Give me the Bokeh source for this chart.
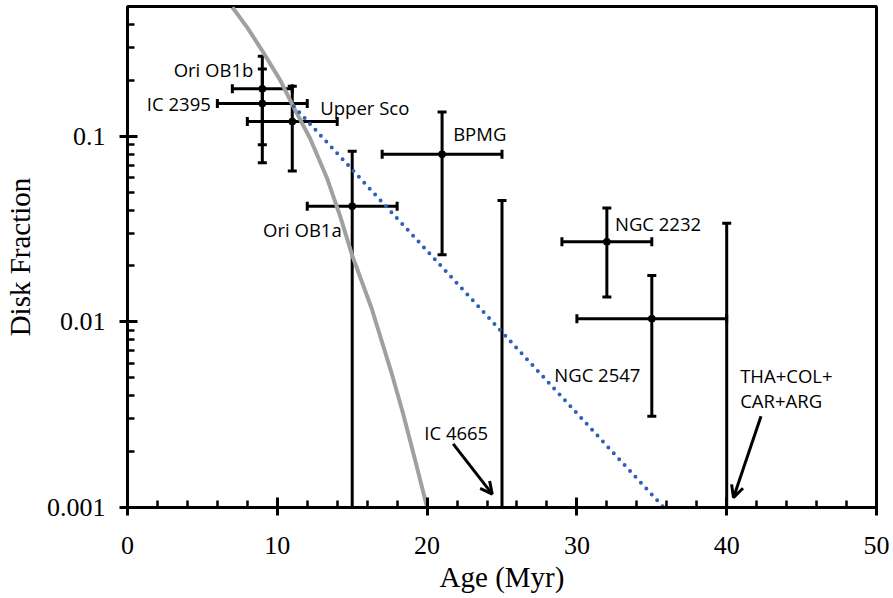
from bokeh.plotting import figure
from bokeh.models import (Whisker, TeeHead, Arrow, OpenHead, Label, FixedTicker,
                          CustomJSTickFormatter, ColumnDataSource, Range1d)
from bokeh.embed import file_html
from bokeh.resources import INLINE

# ---- data ----
names = ["Ori OB1b", "IC 2395", "Upper Sco", "Ori OB1a", "BPMG", "NGC 2232", "NGC 2547"]
age = [9, 9, 11, 15, 21, 32, 35]
age_lo = [7, 6, 8, 12, 17, 29, 30]
age_hi = [11, 12, 14, 18, 25, 35, 40]
frac = [0.18, 0.15, 0.12, 0.042, 0.080, 0.027, 0.0104]
frac_lo = [0.090, 0.072, 0.065, 0.001, 0.023, 0.0136, 0.0031]
frac_hi = [0.27, 0.23, 0.186, 0.083, 0.135, 0.041, 0.0178]

# upper limits (IC 4665, THA+COL+CAR+ARG)
lim_age = [25, 40]
lim_lo = [0.001, 0.001]
lim_hi = [0.045, 0.034]

# grey model curve
curve_age = [7.0, 8.0, 9.1, 10.2, 11.1, 12.2, 13.3, 14.2, 15.0, 16.3, 17.6, 18.4, 19.2, 20.0]
curve_frac = [0.495, 0.385, 0.280, 0.200, 0.143, 0.097, 0.060, 0.037, 0.0228, 0.0118,
              0.0054, 0.0032, 0.0018, 0.001]

# blue dotted fit
fit_age = [11.1, 35.8]
fit_frac = [0.145, 0.001]

# annotations
label_text = ["Ori OB1b", "IC 2395", "Upper Sco", "Ori OB1a", "BPMG", "NGC 2232",
              "NGC 2547", "IC 4665", "THA+COL+", "CAR+ARG"]
label_x = [8.4, 5.56, 12.87, 14.3, 21.74, 32.54, 28.49, 19.81, 40.9, 40.9]
label_y = [0.23, 0.15, 0.143, 0.0314, 0.1034, 0.0338, 0.00518, 0.00252, 0.00513, 0.00376]
label_align = ["right", "right", "left", "right", "left", "left", "left", "left", "left", "left"]

arrow_x0 = [21.74, 42.29]
arrow_y0 = [0.0022, 0.0031]
arrow_x1 = [24.35, 40.45]
arrow_y1 = [0.00118, 0.00113]

x_ticks = [0, 10, 20, 30, 40, 50]
y_ticks = [0.001, 0.01, 0.1]

# ---- figure ----
p = figure(width=893, height=598, x_range=Range1d(0, 50), y_range=Range1d(0.001, 0.5),
           y_axis_type="log", output_backend="svg", toolbar_location=None,
           min_border_left=125, min_border_right=17, min_border_top=6, min_border_bottom=91)
p.background_fill_color = "white"
p.border_fill_color = "white"
p.xgrid.visible = False
p.ygrid.visible = False
p.outline_line_color = "black"
p.outline_line_width = 3
p.outline_line_alpha = 1

x_minor = [v for v in range(0, 51, 2) if v not in x_ticks]
y_minor = [k * t for t in y_ticks for k in range(2, 10) if k * t < 0.5]
p.xaxis.ticker = FixedTicker(ticks=x_ticks, minor_ticks=x_minor)
p.yaxis.ticker = FixedTicker(ticks=y_ticks, minor_ticks=y_minor)
p.yaxis.formatter = CustomJSTickFormatter(code="return String(tick);")

for ax in (p.xaxis, p.yaxis):
    ax.axis_line_width = 3
    ax.axis_line_color = "black"
    ax.major_tick_line_width = 3
    ax.major_tick_line_color = "black"
    ax.minor_tick_line_width = 2.5
    ax.minor_tick_line_color = "black"
    ax.major_tick_in = 10
    ax.major_tick_out = 8
    ax.minor_tick_in = 7
    ax.minor_tick_out = 0
    ax.major_label_text_font = "Liberation Serif"
    ax.major_label_text_font_size = "26px"
    ax.major_label_text_color = "black"
    ax.axis_label_text_font = "Liberation Serif"
    ax.axis_label_text_font_size = "29px"
    ax.axis_label_text_font_style = "normal"
    ax.axis_label_text_color = "black"

p.xaxis.major_label_standoff = 21
p.xaxis.axis_label_standoff = 4
p.yaxis.major_label_standoff = 14
p.yaxis.axis_label_standoff = 8

p.xaxis.axis_label = "Age (Myr)"
p.yaxis.axis_label = "Disk Fraction"

# grey curve and blue fit
p.line(curve_age, curve_frac, line_color="#A0A0A0", line_width=4, line_join="round")
p.line(fit_age, fit_frac, line_color="#2F5EBD", line_width=4, line_dash="0 8", line_cap="round")

# error bars
src = ColumnDataSource(dict(age=age, age_lo=age_lo, age_hi=age_hi,
                            frac=frac, frac_lo=frac_lo, frac_hi=frac_hi))

def tee():
    return TeeHead(size=9, line_width=3, line_color="black")

p.add_layout(Whisker(source=src, base="frac", lower="age_lo", upper="age_hi", dimension="width",
                     line_width=3, line_color="black", lower_head=tee(), upper_head=tee()))
p.add_layout(Whisker(source=src, base="age", lower="frac_lo", upper="frac_hi", dimension="height",
                     line_width=3, line_color="black", lower_head=tee(), upper_head=tee()))

lim_src = ColumnDataSource(dict(age=lim_age, lo=lim_lo, hi=lim_hi))
p.add_layout(Whisker(source=lim_src, base="age", lower="lo", upper="hi", dimension="height",
                     line_width=3, line_color="black", lower_head=None, upper_head=tee()))

p.scatter(age, frac, size=7, color="black")

# labels
for t, x, y, a in zip(label_text, label_x, label_y, label_align):
    p.add_layout(Label(x=x, y=y, text=t, text_align=a, text_baseline="middle",
                       text_font="Open Sans", text_font_size="18.5px", text_color="black"))

# arrows
arr_src = ColumnDataSource(dict(x0=arrow_x0, y0=arrow_y0, x1=arrow_x1, y1=arrow_y1))
p.add_layout(Arrow(source=arr_src, x_start="x0", y_start="y0", x_end="x1", y_end="y1",
                   line_width=3, line_color="black",
                   end=OpenHead(size=12, line_width=3, line_color="black")))

open("out.html", "w").write(file_html(p, INLINE))
